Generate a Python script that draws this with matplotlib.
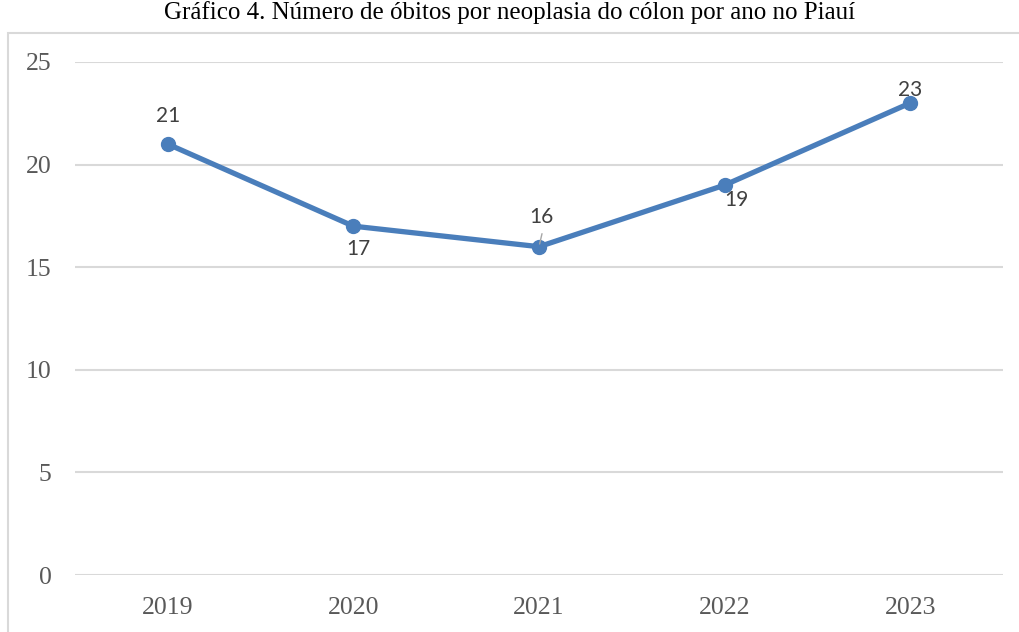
import matplotlib
matplotlib.use("Agg")
import matplotlib.pyplot as plt
from matplotlib.patches import Rectangle

# Data
years = ["2019", "2020", "2021", "2022", "2023"]
deaths = [21, 17, 16, 19, 23]
yticks = [0, 5, 10, 15, 20, 25]
title = "Gráfico 4. Número de óbitos por neoplasia do cólon por ano no Piauí"

# label offsets (pixels) relative to each point
label_offsets = [(0, 28), (5, -23), (2, 30), (12, -15), (0, 13)]

line_color = "#4A7EBB"
grid_color = "#D9D9D9"
tick_color = "#595959"
label_color = "#404040"

fig = plt.figure(figsize=(10.2, 6.32), dpi=100)
ax = fig.add_axes([75 / 1020, 1 - 575 / 632, (1003 - 75) / 1020, (575 - 62) / 632])

x = list(range(len(years)))
ax.plot(x, deaths, color=line_color, lw=3.8, marker="o", markersize=10,
        solid_capstyle="round", zorder=3)

for i, (xi, v) in enumerate(zip(x, deaths)):
    dx, dy = label_offsets[i]
    ax.annotate(str(v), (xi, v), xytext=(dx, dy), textcoords="offset pixels",
                ha="center", va="center", fontsize=15, family="Lato",
                color=label_color, zorder=4)

# small leader line for the 2021 label
ax.annotate("", xy=(2, deaths[2]), xytext=(3, 13), textcoords="offset pixels",
            arrowprops=dict(arrowstyle="-", color="#A6A6A6", lw=1.0,
                            shrinkA=0, shrinkB=2), zorder=4)

ax.set_xlim(-0.5, len(years) - 0.5)
ax.set_ylim(0, 25)
ax.set_yticks(yticks)
ax.set_xticks(x)
ax.set_xticklabels(years)
ax.grid(axis="y", color=grid_color, lw=1.5)
ax.set_axisbelow(True)
for s in ax.spines.values():
    s.set_visible(False)
ax.tick_params(axis="both", length=0, labelsize=18.5, labelcolor=tick_color,
               labelfontfamily="Liberation Serif")
ax.tick_params(axis="y", pad=17)
ax.tick_params(axis="x", pad=16)

# chart frame
fig.patches.append(Rectangle((8 / 1020, -0.1), 1.2, (632 - 33) / 632 + 0.1,
                             transform=fig.transFigure, fill=False,
                             edgecolor=grid_color, lw=1.5, zorder=0))

fig.text(0.5, 1 - 13 / 632, title, ha="center", va="center",
         fontsize=18, family="Liberation Serif", color="black")

fig.savefig("out.png", dpi=100)
